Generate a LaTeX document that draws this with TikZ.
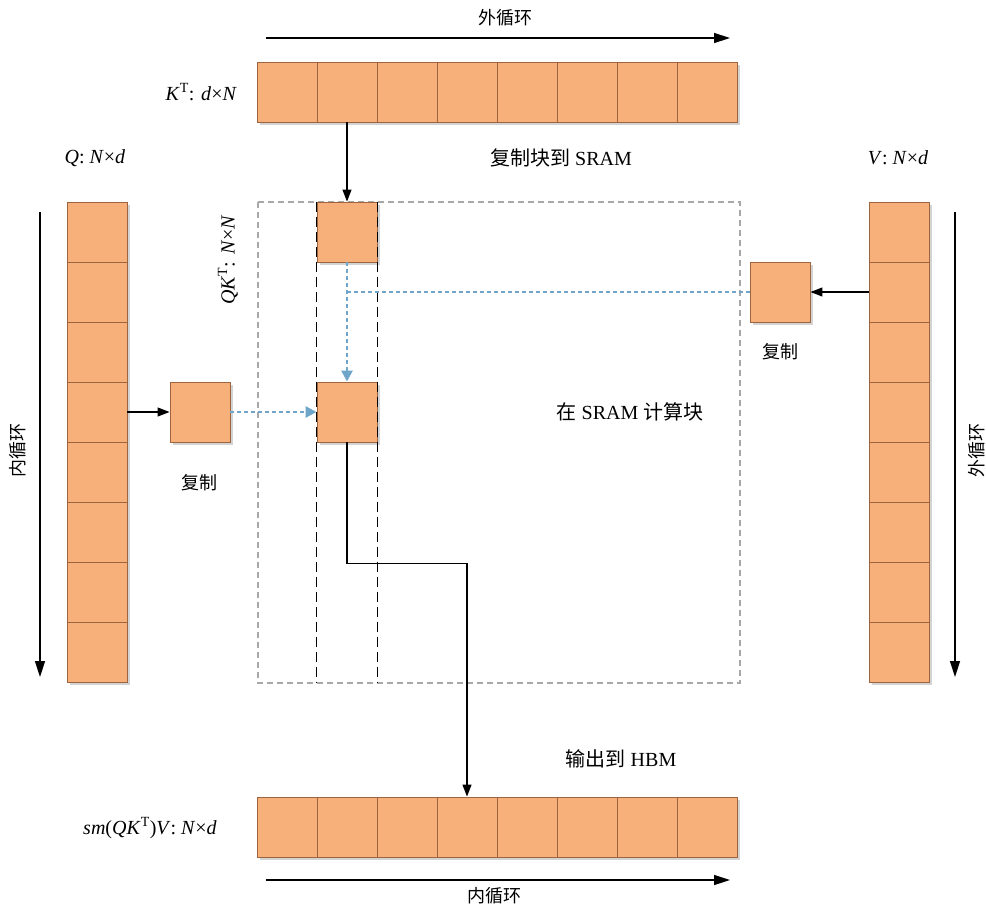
\documentclass[tikz,border=0pt]{standalone}
\usepackage{fontspec}
\setmainfont{Liberation Serif}
\newfontfamily\cjk{Noto Sans CJK SC}
\usetikzlibrary{arrows.meta,positioning,shadows}
\definecolor{tile}{HTML}{F8B07B}
\definecolor{tileline}{HTML}{9C6540}
\definecolor{flow}{HTML}{6FA5C9}
\definecolor{frame}{HTML}{A8A8A8}
\tikzset{
  cell/.style={draw=tileline, fill=tile, minimum size=60pt, inner sep=0pt, line width=0.9pt,
    drop shadow={opacity=0.35, shadow xshift=3pt, shadow yshift=-3pt}},
  arr/.style={-{Triangle[length=12pt,width=9pt]}, line width=1.2pt},
  looparr/.style={-{Triangle[length=16pt,width=10pt]}, line width=1.4pt},
  cline/.style={flow, line width=2.6pt, dash pattern=on 4pt off 3pt},
  carr/.style={cline, -{Triangle[length=11pt,width=11pt]}},
  colline/.style={line width=1.8pt, dash pattern=on 10pt off 5pt},
  lbl/.style={font=\fontsize{20}{24}\selectfont, inner sep=0pt},
  zh/.style={font=\fontsize{18}{22}\selectfont\cjk, inner sep=0pt}
}

\begin{document}
\begin{tikzpicture}[x=1pt, y=-1pt]
\useasboundingbox (0,0) rectangle (986,911);
% tile rows and columns
\foreach \i in {0,...,7} {
  \node[cell] (k\i) at (287+60*\i,92) {};
  \node[cell] (o\i) at (287+60*\i,827) {};
  \node[cell] (q\i) at (97,232+60*\i) {};
  \node[cell] (v\i) at (899,232+60*\i) {};
}
% SRAM area
\draw[frame, line width=1.2pt, dash pattern=on 6pt off 4pt] (258,202) rectangle (740,683);
\node[cell] (ktile) at (347,232) {};
\node[cell] (ctile) at (347,412) {};
\node[cell] (qtile) at (200,412) {};
\node[cell] (vtile) at (780,292) {};
\draw[colline] (ktile.north west) -- (ktile.north west |- 0,683);
\draw[colline] (ktile.north east) -- (ktile.north east |- 0,683);

% loop arrows
\coordinate (ta) at (266,38);  \coordinate (tb) at (730,38);
\coordinate (ba) at (266,880); \coordinate (bb) at (730,880);
\coordinate (la) at (40,212);  \coordinate (lb) at (40,677);
\coordinate (ra) at (955,212); \coordinate (rb) at (955,677);
\draw[looparr] (ta) -- (tb);
\draw[looparr] (ba) -- (bb);
\draw[looparr] (la) -- (lb);
\draw[looparr] (ra) -- (rb);

% copies
\draw[arr] (k1.south) -- (ktile.north);
\draw[arr] (q3.east) -- (qtile.west);
\draw[arr] (v1.west) -- (vtile.east);
\draw[carr] (ktile.south) -- (ctile.north);
\draw[cline] (vtile.west) -- (vtile.west -| ktile.south);
\draw[carr] (qtile.east) -- (ctile.west);
\draw[arr] (ctile.south) -- ++(0,121) -| (o3.north);

% labels
\node[zh] (tloop) at (505,18) {外循环};
\node[zh] (bloop) at (494,896) {内循环};
\node[zh, rotate=90] (lloop) at (18,450) {内循环};
\node[zh, rotate=90] (rloop) at (977,450) {外循环};
\node[lbl, anchor=east] (klbl) at (237,92) {\textit{K}\textsuperscript{T}: \textit{d}×\textit{N}};
\node[lbl] (qlbl) at (95,158) {\textit{Q}: \textit{N}×\textit{d}};
\node[lbl] (vlbl) at (898,158) {\textit{V}: \textit{N}×\textit{d}};
\node[lbl, rotate=90] (slbl) at (228,260) {\textit{QK}\textsuperscript{T}: \textit{N}×\textit{N}};
\node[lbl] (olbl) at (150,828) {\textit{sm}(\textit{QK}\textsuperscript{T})\textit{V}: \textit{N}×\textit{d}};
\node[lbl] (cplbl) at (561,158) {{\cjk 复制块到} SRAM};
\node[zh] (qcp) at (199,483) {复制};
\node[zh] (vcp) at (780,352) {复制};
\node[lbl] (sram) at (630,412) {{\cjk 在} SRAM {\cjk 计算块}};
\node[lbl] (hbm) at (621,759) {{\cjk 输出到} HBM};
\end{tikzpicture}
\end{document}
